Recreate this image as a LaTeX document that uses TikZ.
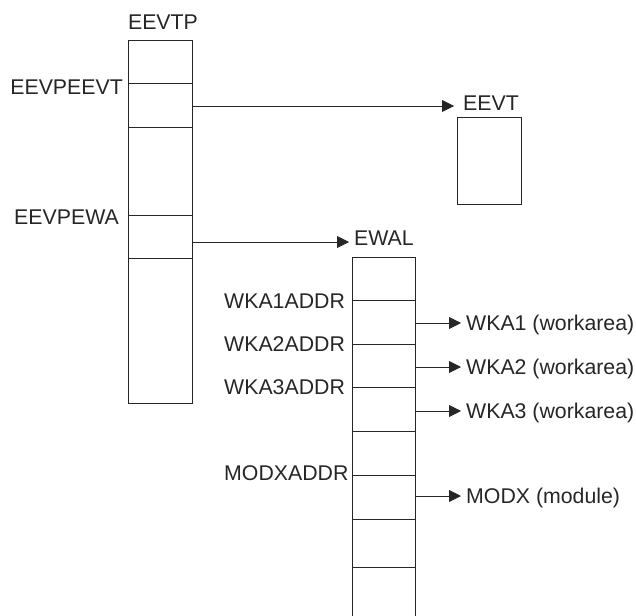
\documentclass[tikz,border=0pt]{standalone}
\usepackage{fontspec}
\setmainfont{Liberation Sans}
\usetikzlibrary{arrows.meta}
\begin{document}
\begin{tikzpicture}[x=1pt,y=-1pt,
  lw/.style={line width=0.9pt, draw=black!85},
  blk/.style={draw=black!85, line width=0.9pt, inner sep=0pt, anchor=north west},
  sep/.style={lw},
  arr/.style={lw, -{Triangle[length=12pt,width=12pt]}},
  lbl/.style={font=\fontsize{21.3}{25}\selectfont, text=black!85, inner sep=2pt, text height=15.2pt, text depth=0pt},
]
\useasboundingbox (0,0) rectangle (636,615);
% EEVTP
\node[blk, minimum width=64pt, minimum height=363pt] (eevtp) at (128,40) {};
\foreach \y in {83,127,215,258}
  \draw[sep] (eevtp.west |- 0,\y) -- (eevtp.east |- 0,\y);
\node[lbl] (eevtplbl) at (163,22) {EEVTP};
\node[lbl, anchor=east] (eevpeevt) at (125,87) {EEVPEEVT};
\node[lbl, anchor=east] (eevpewa) at (121,217) {EEVPEWA};
% EEVT
\node[blk, minimum width=64pt, minimum height=87pt] (eevt) at (457,117) {};
\node[lbl, anchor=west] (eevtlbl) at (461,103) {EEVT};
% EWAL
\node[blk, minimum width=63pt, minimum height=370pt] (ewal) at (352,257) {};
\foreach \y in {300,344,387,431,475,519,567}
  \draw[sep] (ewal.west |- 0,\y) -- (ewal.east |- 0,\y);
\node[lbl, anchor=west] (ewallbl) at (352,238) {EWAL};
\node[lbl, anchor=west] (wka1a) at (222,301) {WKA1ADDR};
\node[lbl, anchor=west] (wka2a) at (222,344) {WKA2ADDR};
\node[lbl, anchor=west] (wka3a) at (222,387) {WKA3ADDR};
\node[lbl, anchor=west] (modxa) at (222,473) {MODXADDR};
% targets
\node[lbl, anchor=west] (wka1) at (464,323) {WKA1 (workarea)};
\node[lbl, anchor=west] (wka2) at (464,367) {WKA2 (workarea)};
\node[lbl, anchor=west] (wka3) at (464,411) {WKA3 (workarea)};
\node[lbl, anchor=west] (modx) at (464,496) {MODX (module)};
% arrows
\draw[arr] (eevtp.east |- 0,106) -- ([xshift=-7pt]eevtlbl.west |- 0,106);
\draw[arr] (eevtp.east |- 0,242) -- ([xshift=-3pt]ewallbl.west |- 0,242);
\draw[arr] (ewal.east |- wka1.west) -- ([xshift=-3pt]wka1.west);
\draw[arr] (ewal.east |- wka2.west) -- ([xshift=-3pt]wka2.west);
\draw[arr] (ewal.east |- wka3.west) -- ([xshift=-3pt]wka3.west);
\draw[arr] (ewal.east |- modx.west) -- ([xshift=-3pt]modx.west);
\end{tikzpicture}
\end{document}
